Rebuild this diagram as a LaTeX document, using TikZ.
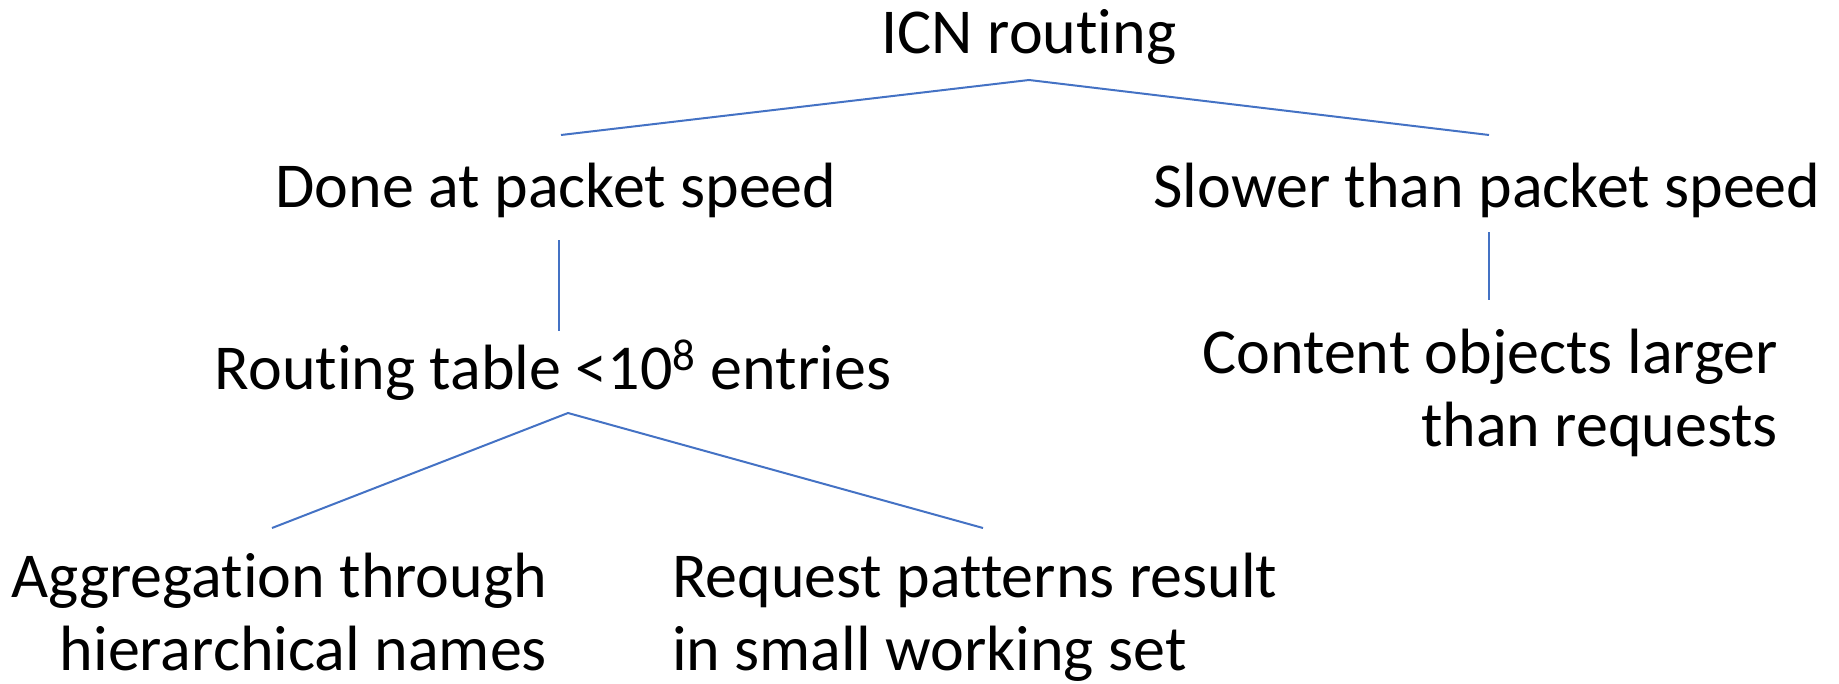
\documentclass[tikz,border=0pt]{standalone}
\usepackage{fontspec}
\setmainfont{Carlito}[Ligatures=NoCommon]
\definecolor{linkblue}{HTML}{4472C4}
\begin{document}
\begin{tikzpicture}[x=0.5pt, y=-0.5pt,
  lbl/.style={font=\fontsize{32}{36.5}\selectfont, inner sep=0pt, outer sep=0pt},
  link/.style={draw=linkblue, line width=1pt}]
\useasboundingbox (0,0) rectangle (1839,684);

% labels (multi-line ones are placed by the baseline of their last line)
\node[lbl, anchor=base] (root) at (1029,54) {ICN routing};
\node[lbl, anchor=base] (fast) at (556,207) {Done at packet speed};
\node[lbl, anchor=base] (slow) at (1487,207) {Slower than packet speed};
\node[lbl, anchor=base] (table) at (553,389) {Routing table <10\textsuperscript{8} entries};
\node[lbl, anchor=base east, align=right] (big) at (1778,446) {Content objects larger\\than requests};
\node[lbl, anchor=base east, align=right] (aggr) at (547,670) {Aggregation through\\hierarchical names};
\node[lbl, anchor=base west, align=left] (req) at (672,670) {Request patterns result\\in small working set};

% connector end points
\coordinate (r0) at (1029,80);
\coordinate (r1) at (561,135);
\coordinate (r2) at (1489,135);
\coordinate (f0) at (559,240);
\coordinate (f1) at (559,331);
\coordinate (s0) at (1489,232);
\coordinate (s1) at (1489,300);
\coordinate (t0) at (568,413);
\coordinate (t1) at (272,528);
\coordinate (t2) at (983,528);

% connectors
\draw[link] (r1) -- (r0) -- (r2);
\draw[link] (f0) -- (f1);
\draw[link] (s0) -- (s1);
\draw[link] (t1) -- (t0) -- (t2);
\end{tikzpicture}
\end{document}
